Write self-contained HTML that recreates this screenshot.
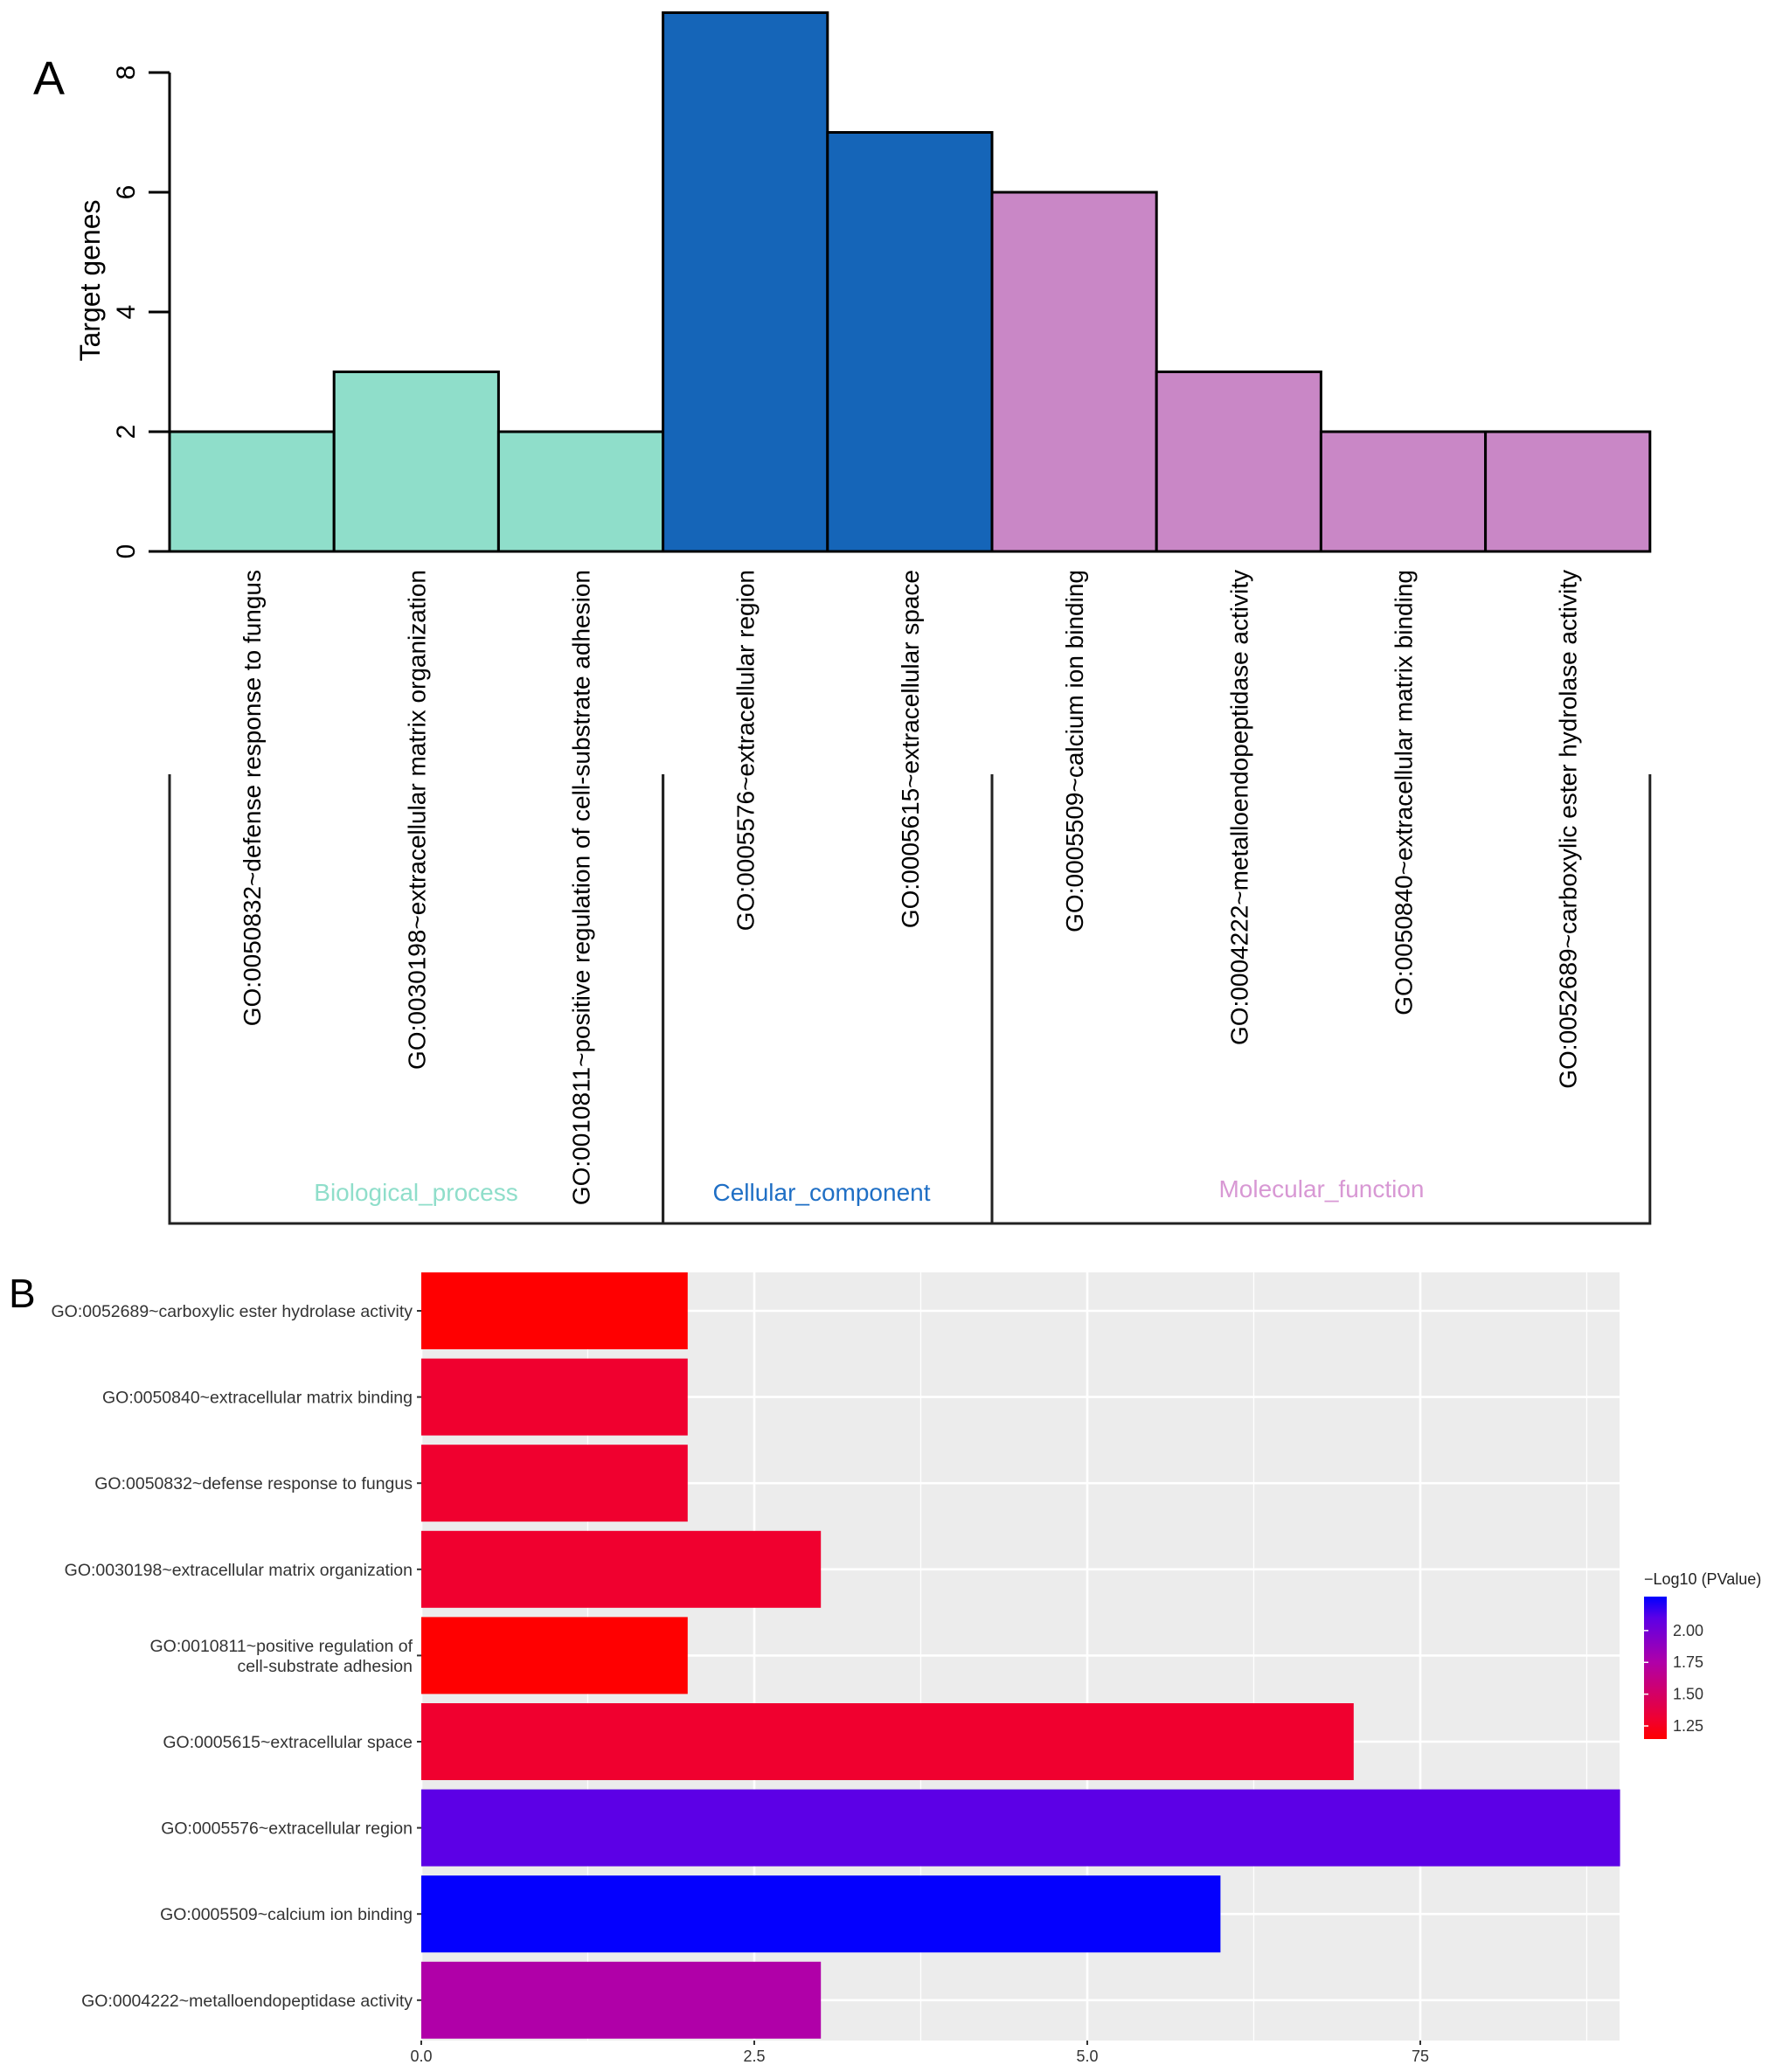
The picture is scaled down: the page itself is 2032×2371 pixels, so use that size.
<!DOCTYPE html>
<html><head><meta charset="utf-8">
<style>
html,body{margin:0;padding:0;background:#fff;}
svg{display:block;font-family:"Liberation Sans",Arial,sans-serif;}
</style></head>
<body>
<svg id="fig" width="2032" height="2371" viewBox="0 0 2032 2371" xmlns="http://www.w3.org/2000/svg">
<rect width="2032" height="2371" fill="#fff"/>
<g id="panelA"></g>
<g id="panelB"></g>
</svg>
<script>
// ---- Panel A data ----
const termsA = ["GO:0050832~defense response to fungus","GO:0030198~extracellular matrix organization","GO:0010811~positive regulation of cell-substrate adhesion","GO:0005576~extracellular region","GO:0005615~extracellular space","GO:0005509~calcium ion binding","GO:0004222~metalloendopeptidase activity","GO:0050840~extracellular matrix binding","GO:0052689~carboxylic ester hydrolase activity"];
const countsA = [2,3,2,9,7,6,3,2,2];
const groupA = [0,0,0,1,1,2,2,2,2];
const groupNames = ["Biological_process","Cellular_component","Molecular_function"];
const yTicksA = [0,2,4,6,8];
// ---- Panel B data ----
const termsB = ["GO:0052689~carboxylic ester hydrolase activity","GO:0050840~extracellular matrix binding","GO:0050832~defense response to fungus","GO:0030198~extracellular matrix organization","GO:0010811~positive regulation of|cell-substrate adhesion","GO:0005615~extracellular space","GO:0005576~extracellular region","GO:0005509~calcium ion binding","GO:0004222~metalloendopeptidase activity"];
const countsB = [2,2,2,3,2,7,9,6,3];
const pvalB = [1.15,1.3,1.3,1.3,1.15,1.3,2.1,2.26,1.75];
const xTicksB = [0,2.5,5,7.5];
const xTickLabelsB = ["0.0","2.5","5.0","75"];
const legendTicks = [1.25,1.5,1.75,2.0];
const legendTickLabels = ["1.25","1.50","1.75","2.00"];

const NS="http://www.w3.org/2000/svg";
function mk(tag,attrs,parent){const e=document.createElementNS(NS,tag);for(const k in attrs)e.setAttribute(k,attrs[k]);parent.appendChild(e);return e;}

// ===== Panel A =====
const A=document.getElementById('panelA');
const ax0=194, bw=188.2, y0=631, unit=68.5;
const yA=v=>y0-v*unit;
const fills=["#8fdeca","#1565b8","#c987c6"];
const gcol=["#8fdeca","#1f6fc5","#d898d4"];
let t=mk('text',{x:38,y:108,'font-size':54},A);t.textContent="A";


let ax=mk('line',{x1:ax0,y1:yA(0),x2:ax0,y2:yA(8),stroke:'#000','stroke-width':3},A);


yTicksA.forEach(v=>{
  const l=mk('line',{x1:170,x2:ax0,y1:yA(v),y2:yA(v),stroke:'#000','stroke-width':3},A);
  
  
  const tx=mk('text',{x:0,y:0,'font-size':30,'text-anchor':'middle',transform:`translate(154,${yA(v)}) rotate(-90)`},A);
  tx.textContent=v;
  
  
});
t=mk('text',{x:0,y:0,'font-size':32,'text-anchor':'middle',transform:'translate(114,321) rotate(-90)'},A);t.textContent="Target genes";


countsA.forEach((c,i)=>{
  const r=mk('rect',{x:ax0+i*bw,y:yA(c),width:bw,height:c*unit,fill:fills[groupA[i]],stroke:'#000','stroke-width':3},A);
  
  
  const tx=mk('text',{x:0,y:0,'font-size':28,'text-anchor':'end',transform:`translate(${ax0+(i+0.5)*bw+10},652) rotate(-90)`},A);
  tx.textContent=termsA[i];
  
  
});
let xl=mk('line',{x1:ax0,x2:ax0+9*bw,y1:y0,y2:y0,stroke:'#000','stroke-width':3},A);


// group brackets
const bounds=[0,3,5,9];
for(let g=0;g<3;g++){
  const xs=ax0+bounds[g]*bw, xe=ax0+bounds[g+1]*bw;
  const p=mk('polyline',{points:`${xs},886 ${xs},1400 ${xe},1400 ${xe},886`,fill:'none',stroke:'#222','stroke-width':3},A);
  
  
  const gt=mk('text',{x:[476,940,1512][g],y:[1374,1374,1370][g],'font-size':28,'text-anchor':'middle',fill:gcol[g]},A);
  gt.textContent=groupNames[g];
  
  
}

// ===== Panel B =====
const B=document.getElementById('panelB');
const px0=482, px1=1853, pyTop=1456, pyBot=2335, xu=152.4, pitch=98.6, bh=88;
const xB=v=>px0+v*xu;
const rowC=i=>1500+i*pitch;
const stops=[[1.147,[255,0,0]],[1.3,[240,0,47]],[1.75,[176,0,168]],[2.1,[92,0,230]],[2.267,[0,0,255]]];
function col(v){
  if(v<=stops[0][0])return 'rgb('+stops[0][1]+')';
  for(let i=1;i<stops.length;i++){if(v<=stops[i][0]){const f=(v-stops[i-1][0])/(stops[i][0]-stops[i-1][0]);const a=stops[i-1][1],b=stops[i][1];return 'rgb('+a.map((x,k)=>Math.round(x+(b[k]-x)*f)).join(',')+')';}}
  return 'rgb('+stops[stops.length-1][1]+')';
}
let bg=mk('rect',{x:px0,y:pyTop,width:px1-px0,height:pyBot-pyTop,fill:'#ececec'},B);


for(let v=1.25;v<9;v+=2.5){const l=mk('line',{x1:xB(v),x2:xB(v),y1:pyTop,y2:pyBot,stroke:'#fff','stroke-width':1.3},B);
  
  }
xTicksB.forEach((v,i)=>{
  const l=mk('line',{x1:xB(v),x2:xB(v),y1:pyTop,y2:pyBot,stroke:'#fff','stroke-width':2.6},B);
  
  
  const tk=mk('line',{x1:xB(v),x2:xB(v),y1:pyBot,y2:pyBot+5,stroke:'#333','stroke-width':2},B);
  
  
  const tx=mk('text',{x:xB(v),y:2359,'font-size':18,'text-anchor':'middle',fill:'#333'},B);
  tx.textContent=xTickLabelsB[i];
  
  
});
termsB.forEach((term,i)=>{
  const l=mk('line',{x1:px0,x2:px1,y1:rowC(i),y2:rowC(i),stroke:'#fff','stroke-width':2.6},B);
  
  
});
termsB.forEach((term,i)=>{
  const r=mk('rect',{x:px0,y:rowC(i)-bh/2,width:countsB[i]*xu,height:bh,fill:col(pvalB[i])},B);
  
  
  const tk=mk('line',{x1:px0-5,x2:px0,y1:rowC(i),y2:rowC(i),stroke:'#333','stroke-width':2},B);
  
  
  const parts=term.split('|');
  parts.forEach((p,k)=>{
    const tx=mk('text',{x:472,y:rowC(i)+7+(k-(parts.length-1)/2)*23,'font-size':19.5,'text-anchor':'end',fill:'#333'},B);
    tx.textContent=p;
    
    
  });
});
t=mk('text',{x:10,y:1496,'font-size':46},B);t.textContent="B";


// legend
const lgTop=1827, lgBot=1990, lgMax=2.267, lgMin=1.147;
const lgY=v=>lgBot-(v-lgMin)/(lgMax-lgMin)*(lgBot-lgTop);
const defs=mk('defs',{},B);
const grad=mk('linearGradient',{id:'cb',x1:0,y1:1,x2:0,y2:0},defs);
stops.forEach(s=>mk('stop',{offset:(s[0]-lgMin)/(lgMax-lgMin),'stop-color':'rgb('+s[1]+')'},grad));
t=mk('text',{x:1881,y:1813,'font-size':18,fill:'#222'},B);t.textContent="\u2212Log10 (PValue)";


const cb=mk('rect',{x:1881,y:lgTop,width:26,height:lgBot-lgTop,fill:'url(#cb)'},B);


legendTicks.forEach((v,i)=>{
  const l=mk('line',{x1:1881,x2:1886,y1:lgY(v),y2:lgY(v),stroke:'#fff','stroke-width':1.5},B);
  
  
  const tx=mk('text',{x:1914,y:lgY(v)+6,'font-size':18,fill:'#333'},B);
  tx.textContent=legendTickLabels[i];
  
  
});
</script>
</body></html>
